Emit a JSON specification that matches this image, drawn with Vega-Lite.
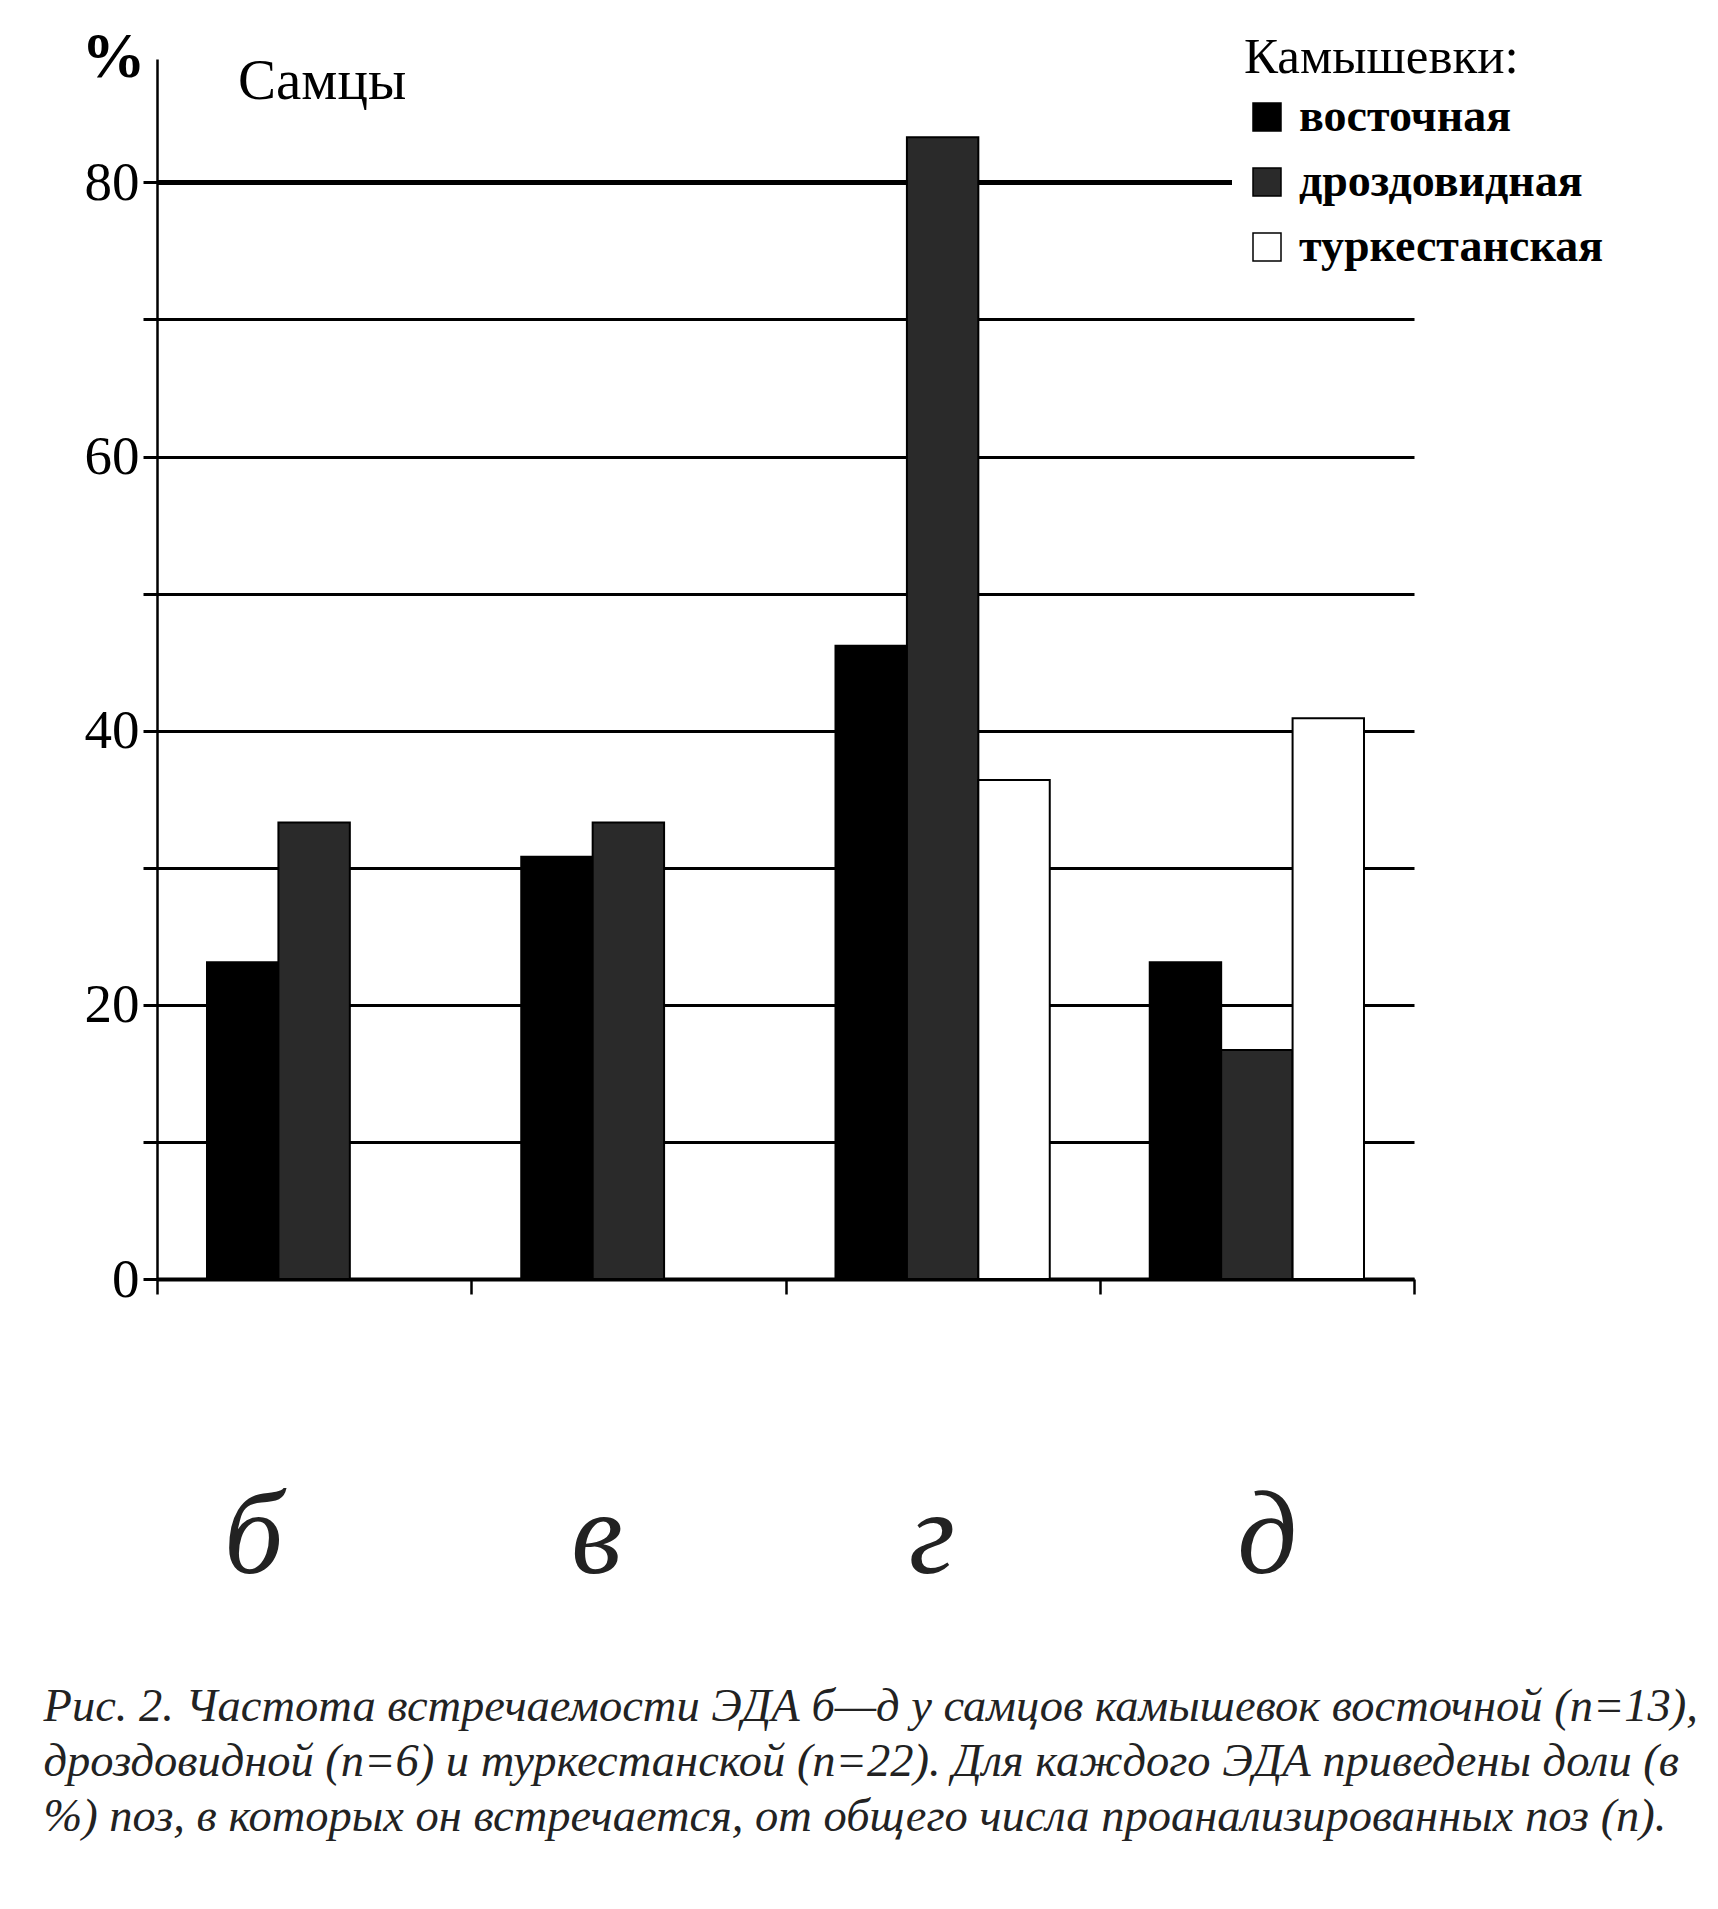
{
  "$schema": "https://vega.github.io/schema/vega-lite/v6.json",
  "width": 1257,
  "height": 1220,
  "autosize": "none",
  "padding": {"left": 157, "top": 59, "right": 304, "bottom": 630},
  "background": "white",
  "title": {
    "text": "Самцы",
    "anchor": "start",
    "frame": "group",
    "orient": "top",
    "font": "Liberation Serif",
    "fontSize": 57,
    "fontWeight": "normal",
    "color": "black",
    "baseline": "alphabetic",
    "offset": 0,
    "dx": 81,
    "dy": 135
  },
  "data": {
    "values": [
      {"pose": "б", "species": "восточная", "share": 23.1},
      {"pose": "б", "species": "дроздовидная", "share": 33.3},
      {"pose": "б", "species": "туркестанская", "share": 0},
      {"pose": "в", "species": "восточная", "share": 30.8},
      {"pose": "в", "species": "дроздовидная", "share": 33.3},
      {"pose": "в", "species": "туркестанская", "share": 0},
      {"pose": "г", "species": "восточная", "share": 46.2},
      {"pose": "г", "species": "дроздовидная", "share": 83.3},
      {"pose": "г", "species": "туркестанская", "share": 36.4},
      {"pose": "д", "species": "восточная", "share": 23.1},
      {"pose": "д", "species": "дроздовидная", "share": 16.7},
      {"pose": "д", "species": "туркестанская", "share": 40.9}
    ]
  },
  "mark": {"type": "bar", "stroke": "black", "strokeWidth": 2},
  "encoding": {
    "x": {
      "field": "pose",
      "type": "nominal",
      "sort": ["б", "в", "г", "д"],
      "scale": {"paddingInner": 0, "paddingOuter": 0},
      "axis": {
        "title": [
          "Рис. 2. Частота встречаемости ЭДА б—д  у самцов камышевок восточной (n=13),",
          "дроздовидной (n=6) и туркестанской (n=22). Для каждого ЭДА приведены доли (в",
          "%) поз, в которых он встречается, от общего числа проанализированных поз (n)."
        ],
        "titleFont": "Liberation Serif",
        "titleFontStyle": "italic",
        "titleFontWeight": "normal",
        "titleFontSize": 46.5,
        "titleColor": "#222222",
        "titleAlign": "left",
        "titleAnchor": "start",
        "titleBaseline": "alphabetic",
        "titleLineHeight": 55,
        "titleX": -114,
        "titleY": 441,
        "titleLimit": 2000,
        "labelAngle": 0,
        "labelFont": "Liberation Serif",
        "labelFontStyle": "italic",
        "labelFontSize": 118,
        "labelColor": "#222222",
        "labelBaseline": "alphabetic",
        "labelPadding": 278,
        "labelOffset": {"expr": "datum.value === 'б' ? -61 : datum.value === 'в' ? -32 : datum.value === 'г' ? -11 : 10"},
        "tickBand": "extent",
        "tickSize": 15,
        "tickWidth": 2.5,
        "tickColor": "black",
        "domainColor": "black",
        "domainWidth": 4,
        "grid": false
      }
    },
    "xOffset": {
      "field": "species",
      "type": "nominal",
      "scale": {
        "domain": ["восточная", "дроздовидная", "туркестанская"],
        "paddingInner": 0,
        "paddingOuter": 0.7
      }
    },
    "y": {
      "field": "share",
      "type": "quantitative",
      "scale": {"domain": [0, 89], "nice": false},
      "axis": {
        "title": "%",
        "titleAngle": 0,
        "titleX": -76,
        "titleY": 17,
        "titleAlign": "left",
        "titleBaseline": "alphabetic",
        "titleFont": "Liberation Serif",
        "titleFontWeight": "bold",
        "titleFontSize": 64,
        "titleColor": "black",
        "values": [0, 10, 20, 30, 40, 50, 60, 70, 80],
        "labelExpr": "datum.value % 20 === 0 ? datum.label : ''",
        "labelFont": "Liberation Serif",
        "labelFontSize": 55,
        "labelColor": "black",
        "labelPadding": 4,
        "tickSize": 14,
        "tickColor": "black",
        "tickWidth": 3,
        "domainColor": "black",
        "domainWidth": 2.5,
        "grid": true,
        "gridColor": "black",
        "gridOpacity": 1,
        "gridWidth": {"condition": {"test": "datum.value === 80", "value": 5}, "value": 3}
      }
    },
    "color": {
      "field": "species",
      "type": "nominal",
      "scale": {
        "domain": ["восточная", "дроздовидная", "туркестанская"],
        "range": ["#000000", "#2a2a2a", "#ffffff"]
      },
      "legend": {
        "title": "Камышевки:",
        "orient": "none",
        "legendX": 1075,
        "legendY": -38,
        "fillColor": "white",
        "padding": 12,
        "titleFont": "Liberation Serif",
        "titleFontSize": 51,
        "titleFontWeight": "normal",
        "titleColor": "black",
        "titlePadding": 10,
        "titleLimit": 600,
        "labelFont": "Liberation Serif",
        "labelFontSize": 46,
        "labelFontWeight": "bold",
        "labelColor": "black",
        "labelOffset": 9,
        "labelLimit": 500,
        "symbolType": "square",
        "symbolSize": 784,
        "symbolStrokeColor": "black",
        "symbolStrokeWidth": 1.5,
        "rowPadding": 19
      }
    }
  },
  "config": {
    "font": "Liberation Serif",
    "view": {"stroke": null}
  }
}
